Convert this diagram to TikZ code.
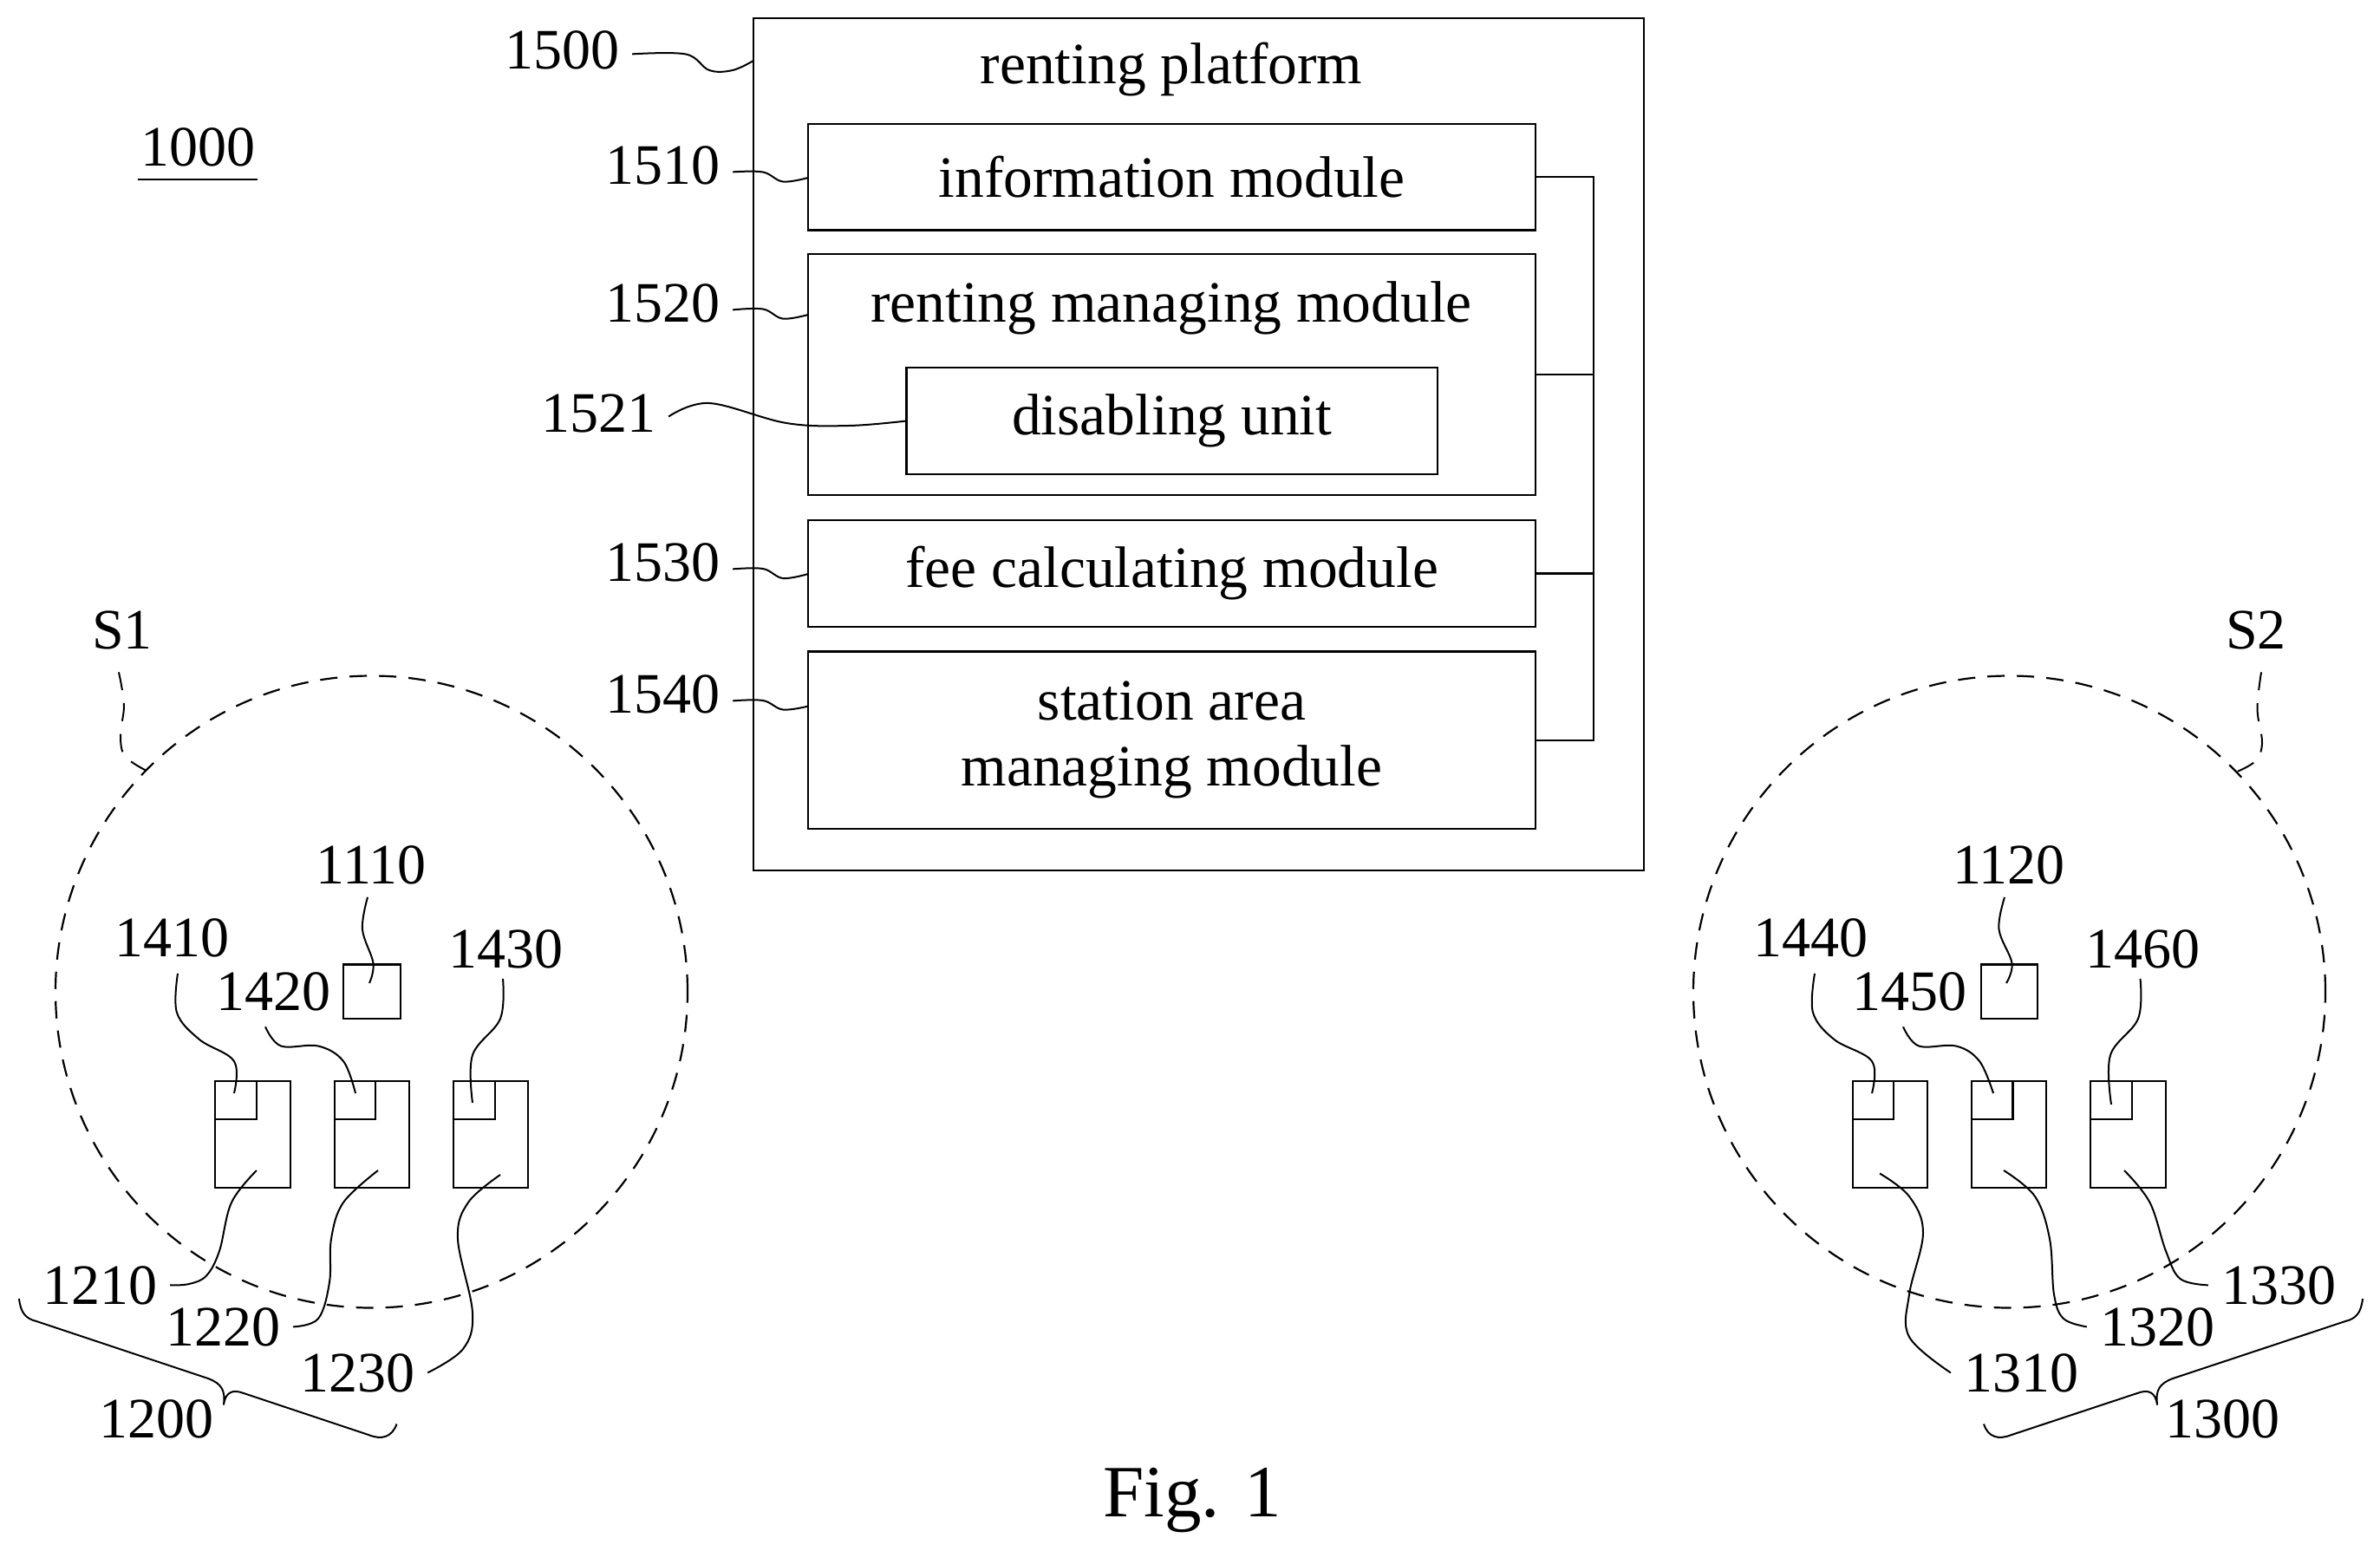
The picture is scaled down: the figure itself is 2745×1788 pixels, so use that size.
\documentclass[tikz,border=0pt]{standalone}
\usepackage{fontspec}
\setmainfont{Liberation Serif}
\tikzset{
  pic lines/.style={line width=2.5pt,draw=black},
  box/.style={pic lines,rectangle,inner sep=0pt,outer sep=0pt,align=center,font=\fontsize{67.5}{76}\selectfont},
  ref/.style={anchor=base,inner sep=15pt,font=\fontsize{66}{76}\selectfont,text=black},
  title/.style={anchor=base,inner sep=0pt,font=\fontsize{67.5}{76}\selectfont,text=black},
  lead/.style={line width=2pt,draw=black,line join=round},
  area/.style={circle,draw=black,line width=2.2pt,dash pattern=on 20pt off 14pt,minimum size=729pt,inner sep=0pt,outer sep=0pt},
  arealead/.style={lead,dash pattern=on 21pt off 15pt},
}
\newcommand{\rbox}[6]{\node[box,minimum width=#4 pt,minimum height=#5 pt] (#1) at (#2,#3) {#6};}
\begin{document}
\begin{tikzpicture}[x=1pt,y=-1pt]
\useasboundingbox (0,0) rectangle (2745,1788);
% platform
\rbox{platform}{1382.5}{512.5}{1027}{983}{}
\rbox{info}{1351.5}{204}{839}{122.5}{information module}
\rbox{renting}{1351.5}{432}{839}{278}{}
\rbox{disabling}{1351.75}{485.5}{612.5}{123}{disabling unit}
\rbox{fee}{1351.5}{661.5}{839}{123}{fee calculating module}
\rbox{station}{1351.5}{853.75}{839}{204.5}{station area\\managing module}
\node[title] (tplatform) at (1351,96) {renting platform};
\node[title] (trenting) at (1351,371) {renting managing module};
\coordinate (busx) at (1838,500);
\draw[pic lines] (info.east) -| (busx) |- (station.east);
\draw[pic lines] (renting.east) -- (renting.east -| busx);
\draw[pic lines] (fee.east) -- (fee.east -| busx);
% references, main
\node[ref] (l1000) at (228,191) {1000};
\draw[pic lines,shorten <=12pt,shorten >=12pt] (l1000.south west) -- (l1000.south east);
\node[ref] (l1500) at (648,79) {1500};
\node[ref] (l1510) at (764,212) {1510};
\node[ref] (l1520) at (764,371) {1520};
\node[ref] (l1521) at (690,498) {1521};
\node[ref] (l1530) at (764,670) {1530};
\node[ref] (l1540) at (764,822) {1540};
\coordinate (p1500) at (869,70);
\coordinate (p1510) at (932,205);
\coordinate (p1520) at (932,363);
\coordinate (p1521) at (disabling.west);
\coordinate (p1530) at (932,662);
\coordinate (p1540) at (932,814.6);
\draw[lead] plot[smooth,tension=.6] coordinates {([yshift=-5pt]l1500.east) (791,62.5) (818,81) (845,81) (p1500)};
\draw[lead] plot[smooth,tension=.6] coordinates {([yshift=-8pt]l1510.east) (880,198.5) (903,209.5) (p1510)};
\draw[lead] plot[smooth,tension=.6] coordinates {([yshift=-8pt]l1520.east) (880,356.5) (903,367.6) (p1520)};
\draw[lead] plot[smooth,tension=.6] coordinates {([yshift=-4pt]l1521.east) (818,465) (907,488) (979,491) (p1521)};
\draw[lead] plot[smooth,tension=.6] coordinates {([yshift=-8pt]l1530.east) (880,656) (903,667) (p1530)};
\draw[lead] plot[smooth,tension=.6] coordinates {([yshift=-8pt]l1540.east) (880,808) (903,818.5) (p1540)};
% station area S1
\node[area] (s1) at (428.5,1144) {};
\rbox{b1110}{429}{1143.75}{66}{62.5}{}
\rbox{b1210}{291.5}{1308.5}{87}{123}{}
\rbox{b1220}{429}{1308.5}{86}{123}{}
\rbox{b1230}{566}{1308.5}{86}{123}{}
\rbox{b1410}{272}{1269}{48}{44}{}
\rbox{b1420}{409.5}{1269}{47}{44}{}
\rbox{b1430}{547}{1269}{48}{44}{}
\node[ref] (ls1) at (141,748.5) {S1};
\node[ref] (l1110) at (428,1019) {1110};
\node[ref] (l1410) at (198,1103) {1410};
\node[ref] (l1420) at (315,1165.5) {1420};
\node[ref] (l1430) at (583,1116) {1430};
\node[ref] (l1210) at (115,1504) {1210};
\node[ref] (l1220) at (257,1552) {1220};
\node[ref] (l1230) at (412,1605) {1230};
\node[ref] (l1200) at (180,1658) {1200};
\coordinate (ps1) at (169,889);
\coordinate (p1110) at (426,1134);
\coordinate (p1410) at (270,1261);
\coordinate (p1420) at (410,1261);
\coordinate (p1430) at (545,1272);
\coordinate (p1210) at (296,1350);
\coordinate (p1220) at (436,1350);
\coordinate (p1230) at (577,1355);
\draw[arealead] plot[smooth,tension=.6] coordinates {([xshift=-4pt,yshift=-11pt]ls1.south) (143,813) (139,847) (144,872) (ps1)};
\draw[lead] plot[smooth,tension=.6] coordinates {([xshift=-4pt]l1110.south) (418,1072) (430.5,1111) (p1110)};
\draw[lead] plot[smooth,tension=.6] coordinates {([xshift=7pt,yshift=-4pt]l1410.south) (204,1168) (230,1199) (270,1224) (p1410)};
\draw[lead] plot[smooth,tension=.6] coordinates {([xshift=-9pt,yshift=-3pt]l1420.south) (324,1206.5) (367,1206.5) (396,1224) (p1420)};
\draw[lead] plot[smooth,tension=.6] coordinates {([xshift=-3pt,yshift=3pt]l1430.south) (577,1175) (545,1217) (p1430)};
\draw[lead] plot[smooth,tension=.6] coordinates {(l1210.east) (218,1481) (238,1471.5) (253,1443) (267,1387) (p1210)};
\draw[lead] plot[smooth,tension=.6] coordinates {(l1220.east) (367,1521) (380,1479) (382,1429) (396,1387) (p1220)};
\draw[lead] plot[smooth,tension=.6] coordinates {(l1230.east) (534,1556) (545,1514) (528,1429) (540,1387) (p1230)};
\coordinate (bra1) at (22,1498);
\coordinate (bra2) at (457.5,1642.5);
\coordinate (bra) at (258,1620);
\draw[lead] (bra1) .. controls (24,1515) and (30,1521) .. (42,1524) -- (240,1590) .. controls (256,1596) and (260,1604) .. (bra)
  .. controls (260,1606) and (268,1602) .. (281,1607) -- (425,1655) .. controls (440,1661) and (452,1658) .. (bra2);
% station area S2
\node[area] (s2) at (2317.5,1144) {};
\rbox{b1120}{2317.5}{1143.75}{65}{62.5}{}
\rbox{b1310}{2180}{1308.5}{86}{123}{}
\rbox{b1320}{2317}{1308.5}{86}{123}{}
\rbox{b1330}{2454.5}{1308.5}{87}{123}{}
\rbox{b1440}{2160.5}{1269}{47}{44}{}
\rbox{b1450}{2297.75}{1269}{47.5}{44}{}
\rbox{b1460}{2435}{1269}{48}{44}{}
\node[ref] (ls2) at (2602,748.5) {S2};
\node[ref] (l1120) at (2317,1019) {1120};
\node[ref] (l1440) at (2088,1103) {1440};
\node[ref] (l1450) at (2202,1165.5) {1450};
\node[ref] (l1460) at (2471.5,1116) {1460};
\node[ref] (l1330) at (2628,1504) {1330};
\node[ref] (l1320) at (2488,1552) {1320};
\node[ref] (l1310) at (2331,1605) {1310};
\node[ref] (l1300) at (2563,1658) {1300};
\coordinate (ps2) at (2579,890.5);
\coordinate (p1120) at (2314,1134);
\coordinate (p1440) at (2159,1261);
\coordinate (p1450) at (2299,1261);
\coordinate (p1460) at (2435,1274);
\coordinate (p1310) at (2168,1353.5);
\coordinate (p1320) at (2311,1350);
\coordinate (p1330) at (2450,1350);
\draw[arealead] plot[smooth,tension=.6] coordinates {([xshift=6pt,yshift=-11pt]ls2.south) (2603.5,818) (2609,857) (2601,878) (ps2)};
\draw[lead] plot[smooth,tension=.6] coordinates {([xshift=-5pt]l1120.south) (2305.5,1072) (2320.5,1111) (p1120)};
\draw[lead] plot[smooth,tension=.6] coordinates {([xshift=5pt,yshift=-4pt]l1440.south) (2091,1168) (2115.5,1199) (2159,1224) (p1440)};
\draw[lead] plot[smooth,tension=.6] coordinates {([xshift=-7pt,yshift=-3pt]l1450.south) (2213,1206.5) (2256,1206.5) (2283,1224) (p1450)};
\draw[lead] plot[smooth,tension=.6] coordinates {([xshift=-3pt,yshift=3pt]l1460.south) (2466,1175) (2434,1217) (p1460)};
\draw[lead] plot[smooth,tension=.6] coordinates {(l1310.west) (2202,1542) (2202,1493) (2218,1422) (2202,1380) (p1310)};
\draw[lead] plot[smooth,tension=.6] coordinates {(l1320.west) (2380,1521) (2369,1493) (2364,1429) (2347,1380) (p1320)};
\draw[lead] plot[smooth,tension=.6] coordinates {(l1330.west) (2514.5,1475) (2498,1443) (2479.5,1387) (p1330)};
\coordinate (brb1) at (2725,1498);
\coordinate (brb2) at (2288,1642.5);
\coordinate (brb) at (2488,1620);
\draw[lead] (brb1) .. controls (2723,1515) and (2717,1521) .. (2705,1524) -- (2506,1590) .. controls (2490,1596) and (2486,1604) .. (brb)
  .. controls (2486,1606) and (2478,1602) .. (2465,1607) -- (2320,1655) .. controls (2305,1661) and (2293,1658) .. (brb2);
% caption
\node[anchor=base,inner sep=0pt,font=\fontsize{85}{90}\selectfont,text=black] (fig) at (1375,1749) {Fig. 1};
\end{tikzpicture}
\end{document}
